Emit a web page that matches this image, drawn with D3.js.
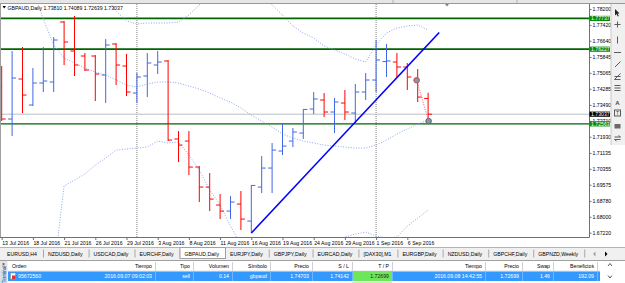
<!DOCTYPE html>
<html>
<head>
<meta charset="utf-8">
<script src="https://cdn.jsdelivr.net/npm/d3@7"></script>
<style>
body { margin: 0; background: #fff; }
svg { display: block; font-family: "Liberation Sans", Arial, sans-serif; }
</style>
</head>
<body>
<div id="container"></div>
<script>
// daily bars, GBPAUD
var dates = ['2016-07-13', '2016-07-14', '2016-07-15', '2016-07-18', '2016-07-19', '2016-07-20', '2016-07-21',
    '2016-07-22', '2016-07-25', '2016-07-26', '2016-07-27', '2016-07-28', '2016-07-29', '2016-08-01',
    '2016-08-02', '2016-08-03', '2016-08-04', '2016-08-05', '2016-08-08', '2016-08-09', '2016-08-10',
    '2016-08-11', '2016-08-12', '2016-08-15', '2016-08-16', '2016-08-17', '2016-08-18', '2016-08-19',
    '2016-08-22', '2016-08-23', '2016-08-24', '2016-08-25', '2016-08-26', '2016-08-29', '2016-08-30',
    '2016-08-31', '2016-09-01', '2016-09-02', '2016-09-05', '2016-09-06', '2016-09-07', '2016-09-08'];
var open = [1.74400, 1.72799, 1.74763, 1.73486, 1.74567, 1.74616, 1.77562, 1.76138, 1.75892, 1.75892, 1.74959,
    1.76482, 1.75401, 1.74076, 1.74910, 1.75450, 1.75647, 1.71817, 1.71719, 1.70442, 1.69460, 1.68576,
    1.68282, 1.68626, 1.67791, 1.69460, 1.70393, 1.71228, 1.71719, 1.72112, 1.73290, 1.73732, 1.73143,
    1.73585, 1.73094, 1.74125, 1.74714, 1.75620, 1.75598, 1.75352, 1.74714, 1.73810];
var high = [1.75401, 1.76138, 1.76334, 1.75303, 1.76334, 1.76825, 1.77611, 1.77856, 1.76040, 1.75941, 1.76727,
    1.76531, 1.75991, 1.75058, 1.76040, 1.76138, 1.75696, 1.72210, 1.72210, 1.70491, 1.70148, 1.69117,
    1.69018, 1.69264, 1.69558, 1.70982, 1.71621, 1.72603, 1.72357, 1.73290, 1.74125, 1.74076, 1.73830,
    1.74223, 1.74518, 1.75058, 1.76678, 1.76482, 1.76040, 1.75549, 1.75254, 1.74089];
var low = [1.72701, 1.71964, 1.73094, 1.73437, 1.74125, 1.74125, 1.75450, 1.74910, 1.75156, 1.73683, 1.73585,
    1.74468, 1.73928, 1.73585, 1.73879, 1.75009, 1.71719, 1.70688, 1.70049, 1.68724, 1.68282, 1.67889,
    1.67889, 1.67349, 1.67202, 1.69166, 1.69166, 1.71031, 1.71424, 1.71817, 1.73045, 1.72897, 1.72112,
    1.72750, 1.72603, 1.73732, 1.74125, 1.74861, 1.74861, 1.74223, 1.73634, 1.72639];
var close = [1.72799, 1.74812, 1.73977, 1.74567, 1.74665, 1.76678, 1.76580, 1.75450, 1.75205, 1.75009, 1.76432,
    1.75450, 1.74125, 1.74861, 1.75549, 1.75598, 1.71768, 1.71522, 1.70442, 1.69460, 1.68871, 1.68282,
    1.68724, 1.67889, 1.69540, 1.70393, 1.71277, 1.71473, 1.72161, 1.73270, 1.73781, 1.73143, 1.73634,
    1.73143, 1.74125, 1.74714, 1.75696, 1.75650, 1.75352, 1.74861, 1.73879, 1.73037];

// bollinger bands
var bbUpper = [1.85025, 1.84780, 1.84289, 1.83552, 1.82570, 1.81588, 1.80852, 1.80361, 1.79870, 1.79379, 1.78789,
    1.78102, 1.77611, 1.77464, 1.77513, 1.77513, 1.77513, 1.77562, 1.77906, 1.78397, 1.79133, 1.79624,
    1.79870, 1.79870, 1.79722, 1.79035, 1.78397, 1.77906, 1.77365, 1.77022, 1.76776, 1.76383, 1.76187,
    1.75991, 1.75745, 1.75598, 1.76432, 1.77022, 1.77267, 1.77365, 1.77415, 1.77169];
var bbMiddle = [1.81588, 1.80852, 1.80017, 1.79133, 1.77709, 1.76432, 1.75794, 1.75549, 1.75303, 1.75107, 1.74959,
    1.74714, 1.74468, 1.74370, 1.74518, 1.74616, 1.74616, 1.74567, 1.74419, 1.74272, 1.74076, 1.73830,
    1.73634, 1.73339, 1.72996, 1.72701, 1.72406, 1.72062, 1.71866, 1.71719, 1.71621, 1.71522, 1.71473,
    1.71424, 1.71375, 1.71375, 1.71522, 1.71768, 1.72062, 1.72308, 1.72553, 1.72750];
var bbLower = [1.64403, 1.64158, 1.63912, 1.64403, 1.64894, 1.65290, 1.69516, 1.69804, 1.70099, 1.70540, 1.70884,
    1.71277, 1.71326, 1.71375, 1.71424, 1.71719, 1.71621, 1.71670, 1.71031, 1.70295, 1.69313, 1.68576,
    1.67545, 1.66613, 1.66122, 1.65876, 1.65778, 1.65876, 1.66072, 1.66269, 1.66466, 1.66662, 1.66858,
    1.67005, 1.67153, 1.67251, 1.67055, 1.66956, 1.67005, 1.67545, 1.67938, 1.68331];

var priceTicks = [1.78200, 1.77420, 1.76640, 1.75845, 1.75065, 1.74285, 1.73490, 1.72710, 1.71930, 1.71135,
    1.70355, 1.69575, 1.68780, 1.68000, 1.67220];
var levels = [1.77737, 1.76227, 1.72563];
var bid = 1.73037;
var trendLine = [[24, 1.67202], [42.07, 1.77046]];   // [bar index, price]
var trade = [[39.9, 1.74703], [41.05, 1.72699]];

var tabs = ['EURUSD,H4', 'NZDUSD,Daily', 'USDCAD,Daily', 'EURCHF,Daily', 'GBPAUD,Daily', 'EURJPY,Daily',
    'GBPJPY,Daily', 'EURCAD,Daily', '[DAX30],M1', 'EURGBP,Daily', 'NZDUSD,Daily', 'GBPCHF,Daily', 'GBPNZD,Weekly'];
var colNames = ['Orden', 'Tiempo', 'Tipo', 'Volumen', 'Símbolo', 'Precio', 'S / L', 'T / P', 'Tiempo', 'Precio', 'Swap', 'Beneficios'];
var orderRow = ['95672560', '2016.09.07 09:02:03', 'sell', '0.14', 'gbpaud', '1.74703', '1.74142', '1.72699',
    '2016.09.08 14:42:55', '1.72699', '1.46', '192.09'];

var W = 625, H = 283,
    chartRight = 589, chartTop = 4, chartBottom = 237.5,
    fs = 5.2,
    bull = '#4169e1', bear = '#ff0000', bandColor = '#8aa6ec';

var svg = d3.select('#container').append('svg').attr('width', W).attr('height', H);

var x = d3.scaleLinear().domain([0, dates.length - 1]).range([1.7, 428.1]);
var y = d3.scaleLinear().domain([1.67220, 1.78200]).range([232.7, 9]);

// top strip of the terminal window
svg.append('rect').attr('width', W).attr('height', chartTop).style('fill', '#e6e6e6');
svg.append('line').attr('x1', 0).attr('x2', W).attr('y1', 3.5).attr('y2', 3.5).style('stroke', '#9a9a9a');
[393, 517].forEach(function(v) {
    svg.append('line').attr('x1', v).attr('x2', v).attr('y1', 0).attr('y2', 3).style('stroke', '#b0b0b0');
});

svg.append('defs').append('clipPath').attr('id', 'clip')
    .append('rect').attr('x', 0).attr('y', chartTop).attr('width', chartRight).attr('height', chartBottom - chartTop);

var plot = svg.append('g').attr('clip-path', 'url(#clip)');

// month separators
dates.forEach(function(d, i) {
    if (i > 0 && d.slice(5, 7) !== dates[i - 1].slice(5, 7)) {
        plot.append('line').attr('x1', x(i)).attr('x2', x(i)).attr('y1', chartTop).attr('y2', chartBottom)
            .style('stroke', '#808080').style('stroke-dasharray', '1,1');
    }
});

// horizontal levels
plot.selectAll('line.level').data(levels).enter().append('line')
    .attr('x1', 0).attr('x2', chartRight)
    .attr('y1', function(d) { return y(d); }).attr('y2', function(d) { return y(d); })
    .style('stroke', '#006400').style('stroke-width', function(d, i) { return i < 2 ? 1.7 : 1.3; });

plot.append('line').attr('x1', 0).attr('x2', chartRight).attr('y1', y(bid)).attr('y2', y(bid))
    .style('stroke', '#b8c0c6');

// bands
var band = d3.line().x(function(d, i) { return x(i); }).y(function(d) { return y(d); });
[bbUpper, bbMiddle, bbLower].forEach(function(s) {
    plot.append('path').attr('d', band(s)).style('fill', 'none').style('stroke', bandColor)
        .style('stroke-dasharray', '1,1.6');
});

// OHLC bars
var bar = plot.selectAll('g.bar').data(dates).enter().append('g')
    .style('stroke', function(d, i) { return close[i] >= open[i] ? bull : bear; });
bar.append('line')
    .attr('x1', function(d, i) { return x(i); }).attr('x2', function(d, i) { return x(i); })
    .attr('y1', function(d, i) { return y(high[i]); }).attr('y2', function(d, i) { return y(low[i]); });
bar.append('line')
    .attr('x1', function(d, i) { return x(i) - 4; }).attr('x2', function(d, i) { return x(i); })
    .attr('y1', function(d, i) { return y(open[i]); }).attr('y2', function(d, i) { return y(open[i]); });
bar.append('line')
    .attr('x1', function(d, i) { return x(i); }).attr('x2', function(d, i) { return x(i) + 4; })
    .attr('y1', function(d, i) { return y(close[i]); }).attr('y2', function(d, i) { return y(close[i]); });

// trend line
plot.append('line')
    .attr('x1', x(trendLine[0][0])).attr('y1', y(trendLine[0][1]))
    .attr('x2', x(trendLine[1][0])).attr('y2', y(trendLine[1][1]))
    .style('stroke', '#0000ff').style('stroke-width', 1.6);

// trade open / close
plot.append('line')
    .attr('x1', x(trade[0][0])).attr('y1', y(trade[0][1]))
    .attr('x2', x(trade[1][0])).attr('y2', y(trade[1][1]))
    .style('stroke', '#ff5050').style('stroke-dasharray', '1,1.5');
plot.selectAll('circle').data(trade).enter().append('circle')
    .attr('cx', function(d) { return x(d[0]); }).attr('cy', function(d) { return y(d[1]); })
    .attr('r', 2.8)
    .style('fill', '#8c949e')
    .style('stroke', function(d, i) { return i === 0 ? '#c04848' : '#56627a'; })
    .style('stroke-width', 0.9);

// header
var last = dates.length - 1;
svg.append('path').attr('d', 'M2.5,6 L6,6 L4.25,8.5 Z').style('fill', '#000');
svg.append('text').attr('x', 7.5).attr('y', 9.8).style('font-size', fs + 'px')
    .text('GBPAUD,Daily  ' + [open[last], high[last], low[last], close[last]].map(d3.format('.5f')).join(' '));
svg.append('path').attr('d', 'M445,4 L449,4 L447,6.5 Z').style('fill', '#808080');

// frame
svg.append('line').attr('x1', 0.5).attr('x2', 0.5).attr('y1', chartTop).attr('y2', chartBottom).style('stroke', '#a0a0a0');
svg.append('line').attr('x1', chartRight + 0.5).attr('x2', chartRight + 0.5).attr('y1', chartTop).attr('y2', chartBottom).style('stroke', '#707070');
svg.append('line').attr('x1', 0).attr('x2', chartRight + 0.5).attr('y1', chartBottom).attr('y2', chartBottom).style('stroke', '#707070');

// price axis
var yAxis = d3.axisRight(y).tickValues(priceTicks).tickFormat(d3.format('.5f')).tickSize(2).tickPadding(1);
var ya = svg.append('g').attr('transform', 'translate(' + (chartRight + 0.5) + ',0)').call(yAxis);
ya.select('.domain').remove();
ya.selectAll('text').style('font-size', fs + 'px').style('font-family', 'Liberation Sans, Arial, sans-serif');
ya.selectAll('line').style('stroke', '#707070');

// level / bid labels
function tag(v, col) {
    svg.append('rect').attr('x', chartRight + 0.5).attr('y', y(v) - 2.6).attr('width', 20.5).attr('height', 5.2)
        .style('fill', col);
    svg.append('text').attr('x', chartRight + 2).attr('y', y(v) + 1.8).style('font-size', fs + 'px')
        .style('fill', '#fff').text(d3.format('.5f')(v));
}
levels.forEach(function(v) { tag(v, '#0a8a0a'); });
tag(bid, '#000');

// date axis
var parse = d3.timeParse('%Y-%m-%d'), fmt = d3.timeFormat('%-d %b %Y');
var xAxis = d3.axisBottom(x).tickValues(d3.range(0, dates.length, 3))
    .tickFormat(function(i) { return fmt(parse(dates[i])); }).tickSize(2.5).tickPadding(1);
var xa = svg.append('g').attr('transform', 'translate(0,' + chartBottom + ')').call(xAxis);
xa.select('.domain').remove();
xa.selectAll('line').style('stroke', '#707070');
xa.selectAll('text').style('font-size', fs + 'px').style('font-family', 'Liberation Sans, Arial, sans-serif')
    .attr('text-anchor', 'start').attr('x', 0);

// right tool bar
var tb = svg.append('g');
tb.append('rect').attr('x', 611).attr('y', chartTop).attr('width', 14).attr('height', 141).style('fill', '#f0f0f0');
tb.append('line').attr('x1', 611).attr('x2', 611).attr('y1', chartTop).attr('y2', 145).style('stroke', '#c8c8c8');
tb.append('path').attr('d', 'M615,9 L615,15.5 L616.5,14 L617.8,16.6 L618.8,16.1 L617.6,13.6 L619.6,13.5 Z').style('fill', '#222');
var ic = tb.append('g').style('stroke', '#5a5a5a').style('fill', 'none');
ic.append('path').attr('d', 'M614.5,24.5 H620.5 M617.5,21.5 V27.5');
ic.append('path').attr('d', 'M617.5,36.5 V43.5');
ic.append('path').attr('d', 'M614,52.5 H621');
ic.append('path').attr('d', 'M615,67 L620.5,61.5');
ic.append('path').attr('d', 'M614.5,79.5 L620.5,73.5 M614.5,76.5 H620.5 M614.5,79.5 H620.5');
ic.append('path').attr('d', 'M614.5,85.5 H620.5 M614.5,88 H620.5 M614.5,90.5 H620.5');
tb.append('text').attr('x', 617.5).attr('y', 104.5).attr('text-anchor', 'middle').style('font-size', '6px')
    .style('font-weight', 'bold').style('fill', '#444').text('A');
ic.append('rect').attr('x', 614.5).attr('y', 110).attr('width', 6).attr('height', 6);
tb.append('text').attr('x', 617.5).attr('y', 115).attr('text-anchor', 'middle').style('font-size', '5px')
    .style('fill', '#444').text('T');
tb.append('rect').attr('x', 614.5).attr('y', 124).attr('width', 6).attr('height', 4.5).style('fill', '#6a6a6a');
ic.append('path').attr('d', 'M614.5,137 H620.5 M618.5,135.5 L620.5,137 M614.5,139.5 H620.5 M616.5,141 L614.5,139.5');

// symbol tabs
var tabY = 248, tabH = 11;
svg.append('rect').attr('x', 0).attr('y', tabY - 1).attr('width', W).attr('height', 13.5).style('fill', '#f0f0f0');
svg.append('line').attr('x1', 0).attr('x2', W).attr('y1', tabY - 0.5).attr('y2', tabY - 0.5).style('stroke', '#b4b4b4');
var tx = 2;
tabs.forEach(function(t, i) {
    var g = svg.append('g');
    var label = g.append('text').attr('x', tx + 5).attr('y', tabY + 7.8).style('font-size', fs + 'px').text(t);
    var w = label.node().getComputedTextLength() + 11;
    if (t === 'GBPAUD,Daily') {
        g.insert('rect', 'text').attr('x', tx + 0.5).attr('y', tabY - 0.5).attr('width', w).attr('height', tabH)
            .style('fill', '#fff').style('stroke', '#a0a0a0');
    } else {
        g.append('line').attr('x1', tx + w + 0.5).attr('x2', tx + w + 0.5).attr('y1', tabY + 1.5).attr('y2', tabY + 9.5)
            .style('stroke', '#a8a8a8');
    }
    tx += w;
});
svg.append('path').attr('d', 'M595.5,251.5 L593,254 L595.5,256.5 Z').style('fill', '#a0a0a0');
svg.append('path').attr('d', 'M605,251.5 L607.5,254 L605,256.5 Z').style('fill', '#000');

// terminal table
var colEdges = [null, 155, 193, 232, 270, 312, 352, 392, 485, 522, 553, 597];
var headY = 261, rowY = 271.5;
svg.append('rect').attr('x', 0).attr('y', headY).attr('width', W).attr('height', H - headY).style('fill', '#fff');
svg.append('line').attr('x1', 0).attr('x2', W).attr('y1', headY - 0.5).attr('y2', headY - 0.5).style('stroke', '#a0a0a0');
svg.append('line').attr('x1', 8).attr('x2', 600).attr('y1', rowY - 0.5).attr('y2', rowY - 0.5).style('stroke', '#e0e0e0');
svg.append('rect').attr('x', 8).attr('y', rowY).attr('width', 592).attr('height', 9.5).style('fill', '#3399ff');
svg.append('rect').attr('x', 352).attr('y', rowY).attr('width', 40).attr('height', 9.5).style('fill', '#6ee65a');
svg.append('rect').attr('x', 352).attr('y', rowY + 10).attr('width', 40).attr('height', 3).style('fill', '#c4f2b8');

colNames.forEach(function(c, i) {
    var right = colEdges[i];
    if (right) {
        svg.append('line').attr('x1', right + 0.5).attr('x2', right + 0.5).attr('y1', headY + 1).attr('y2', headY + 9.5)
            .style('stroke', '#d0d0d0');
        svg.append('line').attr('x1', right + 0.5).attr('x2', right + 0.5).attr('y1', rowY).attr('y2', rowY + 9.5)
            .style('stroke', '#6cb6ff');
    }
    svg.append('text').attr('x', right ? right - 3 : 12).attr('y', headY + 6.8)
        .attr('text-anchor', right ? 'end' : 'start').style('font-size', fs + 'px').text(c);
    svg.append('text').attr('x', right ? right - 3 : 18).attr('y', rowY + 6.6)
        .attr('text-anchor', right ? 'end' : 'start').style('font-size', fs + 'px')
        .style('fill', i === 7 ? '#1a1a1a' : '#fff').text(orderRow[i]);
});
svg.append('text').attr('x', 592).attr('y', headY + 5).style('font-size', '4px').style('fill', '#888').text('i');

// order icon
svg.append('rect').attr('x', 10.5).attr('y', rowY + 1.5).attr('width', 5).attr('height', 6).style('fill', '#fff').style('stroke', '#888').style('stroke-width', 0.5);
svg.append('rect').attr('x', 12).attr('y', rowY + 4).attr('width', 3.5).attr('height', 3.5).style('fill', '#e03030');

// scroll arrows
svg.append('path').attr('d', 'M608,266 L610,263.5 L612,266').style('fill', 'none').style('stroke', '#555');
svg.append('path').attr('d', 'M608,275.5 L610,278 L612,275.5').style('fill', 'none').style('stroke', '#555');

// left "Terminal" strip
svg.append('rect').attr('x', 0).attr('y', headY).attr('width', 7.5).attr('height', H - headY).style('fill', '#e4e4e4');
svg.append('rect').attr('x', 0.5).attr('y', 270).attr('width', 6.5).attr('height', 13).style('fill', '#cfdcee');
svg.append('text').attr('x', 3.5).attr('y', 266).attr('text-anchor', 'middle').style('font-size', '5px').text('×');
svg.append('text').attr('transform', 'translate(5.5,283) rotate(-90)').style('font-size', '4.6px')
    .style('fill', '#1f3f8f').text('Terminal');
</script>
</body>
</html>
